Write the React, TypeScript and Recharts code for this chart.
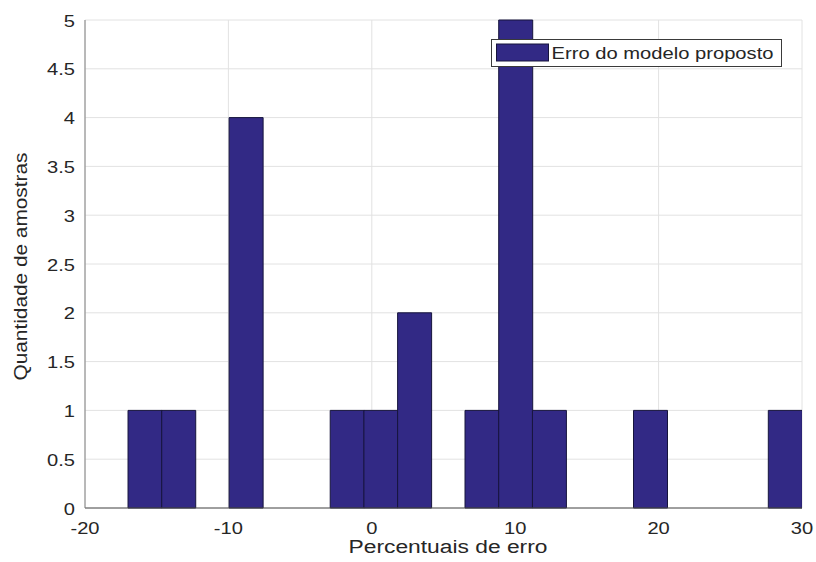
import React from 'react';
import { BarChart, Bar, XAxis, YAxis, CartesianGrid, Legend, Label } from 'recharts';

// Histogram bins (centres, in percent) and counts
const binCenters = [
  -15.825, -13.475, -11.125, -8.775, -6.425, -4.075, -1.725, 0.625, 2.975, 5.325,
  7.675, 10.025, 12.375, 14.725, 17.075, 19.425, 21.775, 24.125, 26.475, 28.825,
];
const binCounts = [1, 1, 0, 4, 0, 0, 1, 1, 2, 0, 1, 5, 1, 0, 0, 1, 0, 0, 0, 1];
const xTicks = [-20, -10, 0, 10, 20, 30];
const yTicks = [0, 0.5, 1, 1.5, 2, 2.5, 3, 3.5, 4, 4.5, 5];
const seriesName = 'Erro do modelo proposto';
const xLabel = 'Percentuais de erro';
const yLabel = 'Quantidade de amostras';

const data = binCenters.map((c, i) => ({ center: c, count: binCounts[i] }));

const FONT = '"Liberation Sans", Arial, Helvetica, sans-serif';
const TEXT = '#262626';
const BAR = '#322985';
const EDGE = '#16143c';

const XTick = (props: any) => {
  const { x, y, payload } = props;
  return (
    <text
      x={0}
      y={0}
      transform={`translate(${x},${y + 25.5}) scale(1.22,1)`}
      textAnchor="middle"
      fontFamily={FONT}
      fontSize={16.5}
      fill={TEXT}
    >
      {String(payload.value)}
    </text>
  );
};

const YTick = (props: any) => {
  const { x, y, payload } = props;
  return (
    <text
      x={0}
      y={0}
      transform={`translate(${x - 10},${y + 6.5}) scale(1.22,1)`}
      textAnchor="end"
      fontFamily={FONT}
      fontSize={16.5}
      fill={TEXT}
    >
      {String(payload.value)}
    </text>
  );
};

const LegendContent = () => (
  <svg width={292} height={29} style={{ display: 'block' }}>
    <rect x={0.5} y={0.5} width={290} height={27} fill="#ffffff" stroke="#3a3a3a" strokeWidth={1} />
    <rect x={5.5} y={5} width={52} height={17} fill={BAR} stroke={EDGE} strokeWidth={1} />
    <text
      x={60.5}
      y={20}
      fontFamily={FONT}
      fontSize={17}
      fill={TEXT}
      textLength={222}
      lengthAdjust="spacingAndGlyphs"
    >
      {seriesName}
    </text>
  </svg>
);

export default function App() {
  return (
    <div style={{ position: 'absolute', left: 0, top: 0, width: 816, height: 562, background: '#ffffff' }}>
      <BarChart
        width={816}
        height={562}
        data={data}
        margin={{ top: 20, right: 14, bottom: 0, left: 0 }}
        barCategoryGap={0}
        barGap={0}
      >
        <CartesianGrid stroke="#e2e2e2" strokeWidth={1} />
        <XAxis
          type="number"
          dataKey="center"
          domain={[-20, 30]}
          ticks={xTicks}
          allowDataOverflow
          height={54}
          tickSize={0}
          tickMargin={0}
          tick={<XTick />}
          axisLine={{ stroke: '#4d4d4d', strokeWidth: 1 }}
          tickLine={false}
        >
          <Label
            content={() => (
              <text
                x={448}
                y={553}
                textAnchor="middle"
                fontFamily={FONT}
                fontSize={18}
                fill={TEXT}
                textLength={199}
                lengthAdjust="spacingAndGlyphs"
              >
                {xLabel}
              </text>
            )}
          />
        </XAxis>
        <YAxis
          type="number"
          domain={[0, 5]}
          ticks={yTicks}
          width={85}
          tickSize={0}
          tickMargin={0}
          tick={<YTick />}
          axisLine={{ stroke: '#808080', strokeWidth: 1 }}
          tickLine={false}
        >
          <Label
            content={() => (
              <text
                transform="translate(27,266.5) rotate(-90)"
                textAnchor="middle"
                fontFamily={FONT}
                fontSize={18.5}
                fill={TEXT}
                textLength={228}
                lengthAdjust="spacingAndGlyphs"
              >
                {yLabel}
              </text>
            )}
          />
        </YAxis>
        <Legend
          layout="horizontal"
          verticalAlign="middle"
          align="center"
          content={<LegendContent />}
          wrapperStyle={{ position: 'absolute', left: 491, top: 39, width: 292, height: 29 }}
        />
        <Bar
          dataKey="count"
          name={seriesName}
          fill={BAR}
          stroke={EDGE}
          strokeWidth={1}
          isAnimationActive={false}
        />
      </BarChart>
    </div>
  );
}
